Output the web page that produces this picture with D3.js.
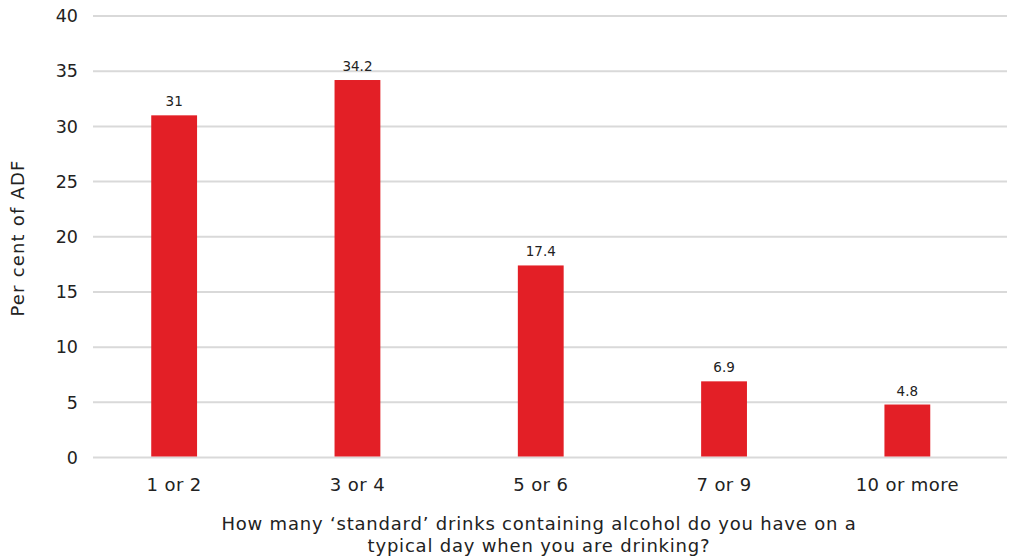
<!DOCTYPE html>
<html><head><meta charset="utf-8">
<script src="https://cdn.jsdelivr.net/npm/d3@7"></script>
<style>body{margin:0;background:#fff;}svg{display:block;font-family:"DejaVu Sans",sans-serif;}</style>
</head><body>
<svg id="c" width="1009" height="559"></svg>
<script>
const categories = ["1 or 2","3 or 4","5 or 6","7 or 9","10 or more"];
const values = [31, 34.2, 17.4, 6.9, 4.8];
const yTicks = [0,5,10,15,20,25,30,35,40];
const yTitle = "Per cent of ADF";
const xTitle = ["How many \u2018standard\u2019 drinks containing alcohol do you have on a","typical day when you are drinking?"];

const svg = d3.select("#c");
const y = d3.scaleLinear().domain([0,40]).range([457.5,16]);
const x = d3.scaleBand().domain(categories).range([82.5,999]).paddingInner(0.75).paddingOuter(0.375);

const grid = svg.append("g");
grid.selectAll("line").data(yTicks).join("line")
  .attr("x1",93).attr("x2",1007)
  .attr("y1",d=>y(d)).attr("y2",d=>y(d))
  .attr("stroke","#d9d9d9").attr("stroke-width",2);

svg.append("g").selectAll("text").data(yTicks).join("text")
  .attr("x",78).attr("y",d=>y(d)).attr("dy","0.36em")
  .attr("text-anchor","end").attr("font-size",17.5).attr("fill","#222")
  .text(d=>d);

svg.append("g").selectAll("text").data(values).join("text")
  .attr("x",(d,i)=>x(categories[i])+x.bandwidth()/2).attr("y",d=>y(d)-9)
  .attr("text-anchor","middle").attr("font-size",13.5).attr("fill","#222")
  .text(d=>d);

svg.append("g").selectAll("rect").data(values).join("rect")
  .attr("x",(d,i)=>x(categories[i])).attr("width",x.bandwidth())
  .attr("y",d=>y(d)).attr("height",d=>y(0)-y(d)-1)
  .attr("fill","#e31f26");

svg.append("g").selectAll("text").data(categories).join("text")
  .attr("x",d=>x(d)+x.bandwidth()/2).attr("y",491)
  .attr("text-anchor","middle").attr("font-size",18).attr("letter-spacing",0.4).attr("fill","#222")
  .text(d=>d);

svg.append("text").attr("transform","translate(24,238) rotate(-90)")
  .attr("text-anchor","middle").attr("font-size",18).attr("letter-spacing",1.2).attr("fill","#222").text(yTitle);

svg.append("g").selectAll("text").data(xTitle).join("text")
  .attr("x",539).attr("y",(d,i)=>530+i*22)
  .attr("text-anchor","middle").attr("font-size",18).attr("letter-spacing",0.8).attr("fill","#222")
  .text(d=>d);
</script>
</body></html>
